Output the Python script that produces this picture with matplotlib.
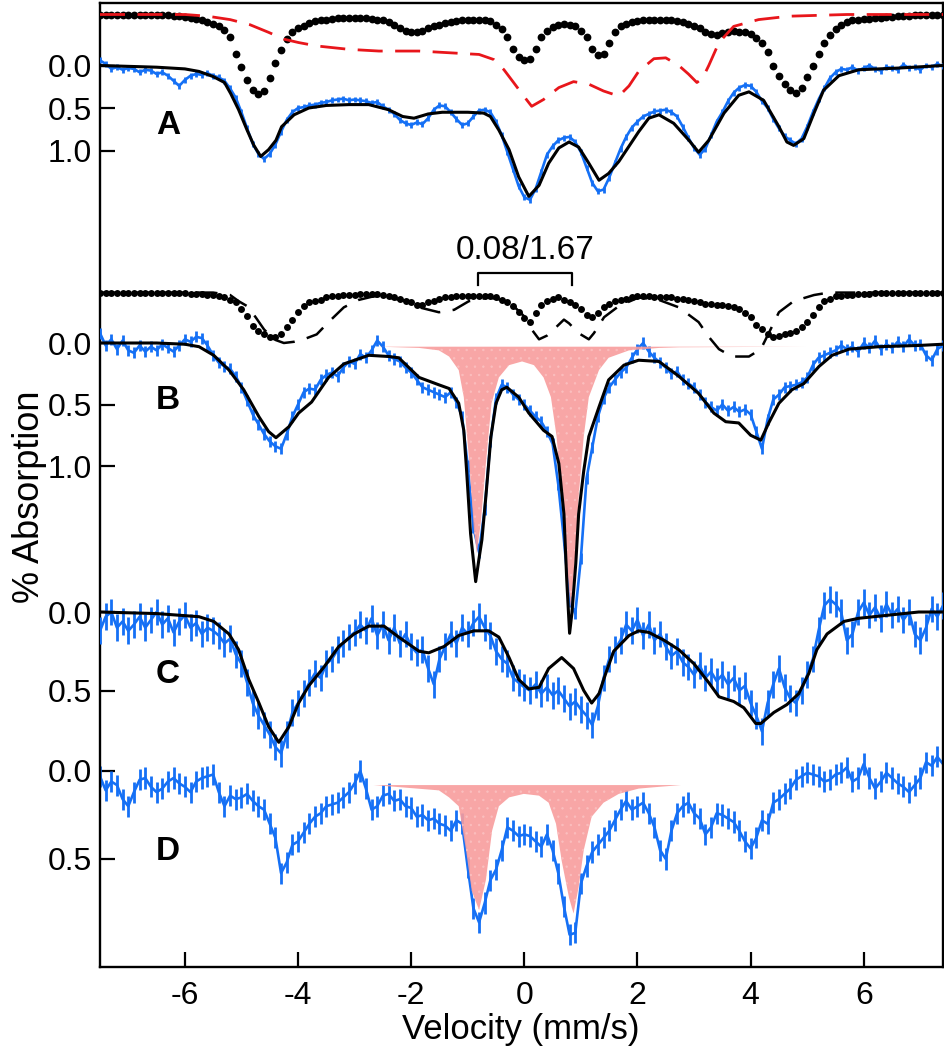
"""
Mossbauer spectra A-D, stacked with their own absorption scales
"""

import numpy as np
import matplotlib.pyplot as plt

plt.rcParams['font.family'] = ['Liberation Sans', 'DejaVu Sans']
plt.rcParams['hatch.linewidth'] = 0.5

# velocity channels (mm/s)
velocity = np.linspace(-7.5, 7.4, 150)

# ---- spectrum A -------------------------------------------------------
a_data = [-0.06, -0.02, 0.04, 0.02, 0.05, 0.03, 0.04, 0.08, 0.05, 0.06,
          0.10, 0.08, 0.12, 0.18, 0.24, 0.17, 0.12, 0.10, 0.11, 0.09,
          0.12, 0.14, 0.18, 0.27, 0.38, 0.55, 0.74, 0.92, 1.04, 1.10,
          1.04, 0.93, 0.78, 0.64, 0.55, 0.50, 0.49, 0.47, 0.46, 0.44,
          0.43, 0.41, 0.40, 0.39, 0.41, 0.40, 0.41, 0.42, 0.44, 0.43,
          0.48, 0.52, 0.57, 0.64, 0.68, 0.70, 0.67, 0.69, 0.62, 0.52,
          0.47, 0.48, 0.55, 0.63, 0.70, 0.68, 0.60, 0.53, 0.52, 0.55,
          0.66, 0.82, 1.02, 1.22, 1.42, 1.55, 1.58, 1.45, 1.25, 1.05,
          0.95, 0.88, 0.85, 0.84, 0.90, 1.02, 1.20, 1.38, 1.48, 1.46,
          1.32, 1.15, 0.98, 0.84, 0.73, 0.66, 0.60, 0.57, 0.54, 0.53,
          0.52, 0.55, 0.60, 0.72, 0.85, 0.97, 1.05, 0.98, 0.82, 0.66,
          0.55, 0.42, 0.32, 0.26, 0.23, 0.24, 0.31, 0.42, 0.50, 0.63,
          0.74, 0.83, 0.88, 0.92, 0.86, 0.72, 0.55, 0.40, 0.27, 0.15,
          0.08, 0.04, 0.05, 0.02, 0.06, 0.03, 0.00, 0.04, 0.06, 0.02,
          0.03, 0.05, -0.01, 0.03, 0.02, 0.05, 0.00, 0.02, -0.02, 0.01]
a_err = 0.035

a_fit_v = [-7.5, -6.5, -6.0, -5.75, -5.5, -5.3, -5.19, -5.05, -4.9, -4.78,
           -4.66, -4.52, -4.39, -4.29, -4.07, -3.81, -3.5, -3.1, -2.75, -2.4,
           -2.15, -1.95, -1.7, -1.45, -1.0, -0.72, -0.6, -0.45, -0.27, -0.1,
           0.08, 0.26, 0.43, 0.61, 0.79, 0.96, 1.14, 1.32, 1.49, 1.67,
           2.02, 2.2, 2.38, 2.64, 2.91, 3.08, 3.26, 3.53, 3.79, 3.97,
           4.23, 4.5, 4.64, 4.76, 4.94, 5.12, 5.29, 5.56, 5.91, 6.62, 7.4]
a_fit = [0.0, 0.02, 0.04, 0.07, 0.13, 0.20, 0.33, 0.52, 0.76, 0.94,
         1.07, 0.99, 0.88, 0.72, 0.58, 0.50, 0.47, 0.46, 0.46, 0.52,
         0.60, 0.62, 0.57, 0.55, 0.55, 0.56, 0.60, 0.76, 0.99, 1.31,
         1.54, 1.41, 1.15, 0.97, 0.90, 0.96, 1.15, 1.35, 1.27, 1.13,
         0.78, 0.62, 0.58, 0.68, 0.88, 1.02, 0.88, 0.56, 0.35, 0.31,
         0.41, 0.72, 0.90, 0.94, 0.86, 0.56, 0.29, 0.12, 0.05, 0.03, 0.0]

# site 1 of A (dots), drawn above the spectrum
a_site1 = [0.0, 0.0, 0.0, 0.0, 0.0, 0.0, 0.0, 0.0, 0.0, 0.01,
           0.01, 0.01, 0.01, 0.02, 0.02, 0.03, 0.04, 0.05, 0.07, 0.09,
           0.11, 0.14, 0.18, 0.26, 0.46, 0.62, 0.77, 0.89, 0.94, 0.90,
           0.75, 0.57, 0.42, 0.29, 0.21, 0.16, 0.13, 0.10, 0.08, 0.07,
           0.06, 0.05, 0.04, 0.04, 0.04, 0.04, 0.04, 0.04, 0.05, 0.06,
           0.07, 0.09, 0.12, 0.16, 0.19, 0.21, 0.21, 0.19, 0.16, 0.14,
           0.12, 0.10, 0.09, 0.08, 0.07, 0.06, 0.06, 0.06, 0.07, 0.08,
           0.12, 0.17, 0.26, 0.40, 0.50, 0.53, 0.52, 0.41, 0.27, 0.19,
           0.15, 0.12, 0.11, 0.12, 0.14, 0.19, 0.27, 0.40, 0.48, 0.47,
           0.33, 0.20, 0.14, 0.11, 0.09, 0.08, 0.07, 0.06, 0.06, 0.06,
           0.07, 0.07, 0.08, 0.09, 0.11, 0.13, 0.16, 0.20, 0.23, 0.24,
           0.22, 0.20, 0.19, 0.20, 0.21, 0.23, 0.28, 0.34, 0.44, 0.60,
           0.72, 0.82, 0.89, 0.92, 0.86, 0.74, 0.60, 0.46, 0.34, 0.24,
           0.17, 0.12, 0.09, 0.07, 0.06, 0.05, 0.05, 0.04, 0.04, 0.03,
           0.03, 0.02, 0.02, 0.02, 0.01, 0.01, 0.01, 0.0, 0.0, 0.0]

# site 2 of A (red dashed)
a_site2_v = [-7.5, -6.0, -5.6, -5.2, -4.85, -4.52, -4.25, -3.99, -3.67, -3.1,
             -2.57, -1.86, -1.33, -0.8, -0.54, -0.36, -0.19, -0.01, 0.13, 0.34,
             0.61, 0.87, 1.14, 1.4, 1.67, 1.85, 2.02, 2.29, 2.5, 2.73,
             2.9, 3.05, 3.15, 3.26, 3.44, 3.7, 4.14, 4.68, 5.7, 7.4]
a_site2 = [0.0, 0.0, 0.02, 0.06, 0.12, 0.21, 0.29, 0.33, 0.37, 0.41,
           0.43, 0.43, 0.45, 0.47, 0.53, 0.65, 0.80, 0.96, 1.08, 1.00,
           0.86, 0.79, 0.82, 0.90, 0.96, 0.84, 0.67, 0.52, 0.51, 0.60,
           0.70, 0.80, 0.75, 0.60, 0.33, 0.14, 0.06, 0.02, 0.0, 0.0]

# ---- spectrum B -------------------------------------------------------
b_data = [-0.08, 0.02, -0.03, 0.05, -0.02, 0.06, 0.08, 0.02, 0.07, 0.03,
          0.06, 0.01, 0.04, 0.07, 0.02, -0.03, -0.01, -0.05, -0.04, 0.02,
          0.10, 0.16, 0.19, 0.21, 0.27, 0.36, 0.47, 0.58, 0.66, 0.74,
          0.80, 0.84, 0.86, 0.74, 0.60, 0.50, 0.40, 0.37, 0.38, 0.30,
          0.26, 0.24, 0.27, 0.20, 0.15, 0.17, 0.09, 0.12, 0.06, -0.02,
          0.03, 0.10, 0.13, 0.15, 0.20, 0.24, 0.30, 0.36, 0.38, 0.40,
          0.42, 0.44, 0.40, 0.48, 0.60, 1.00, 1.50, 1.70, 1.35, 0.80,
          0.45, 0.34, 0.36, 0.42, 0.46, 0.50, 0.55, 0.60, 0.64, 0.72,
          0.82, 1.15, 1.60, 2.10, 2.20, 1.75, 1.10, 0.85, 0.60, 0.45,
          0.36, 0.30, 0.24, 0.20, 0.12, 0.05, 0.00, 0.07, 0.12, 0.16,
          0.20, 0.25, 0.23, 0.30, 0.33, 0.36, 0.42, 0.48, 0.52, 0.55,
          0.50, 0.55, 0.52, 0.56, 0.54, 0.58, 0.72, 0.86, 0.62, 0.46,
          0.42, 0.36, 0.35, 0.34, 0.32, 0.28, 0.18, 0.12, 0.10, 0.08,
          0.06, 0.02, 0.05, 0.03, 0.07, 0.00, 0.04, -0.02, 0.05, 0.01,
          0.04, -0.01, 0.03, -0.03, 0.02, 0.01, 0.10, 0.14, 0.05, 0.02]
b_err = 0.045

b_fit_v = [-7.5, -6.5, -6.0, -5.75, -5.49, -5.22, -4.96, -4.69, -4.52, -4.39,
           -4.16, -3.99, -3.76, -3.46, -3.19, -2.75, -2.39, -2.22, -1.86, -1.51,
           -1.33, -1.16, -1.07, -1.02, -0.95, -0.89, -0.86, -0.80, -0.75, -0.68,
           -0.59, -0.50, -0.40, -0.31, -0.10, 0.08, 0.34, 0.49, 0.61, 0.70,
           0.75, 0.80, 0.84, 0.91, 0.96, 1.05, 1.14, 1.32, 1.49, 1.76,
           2.02, 2.38, 2.73, 3.08, 3.35, 3.56, 3.79, 4.0, 4.18, 4.32,
           4.5, 4.73, 4.94, 5.21, 5.44, 5.74, 6.27, 6.97, 7.4]
b_fit = [0.0, 0.0, 0.01, 0.03, 0.10, 0.22, 0.38, 0.60, 0.72, 0.77,
         0.68, 0.57, 0.48, 0.28, 0.17, 0.10, 0.11, 0.12, 0.28, 0.34,
         0.37, 0.49, 0.71, 1.04, 1.55, 1.81, 1.94, 1.75, 1.60, 1.25,
         0.76, 0.49, 0.38, 0.36, 0.44, 0.57, 0.71, 0.76, 0.98, 1.39,
         1.93, 2.36, 2.20, 1.79, 1.39, 1.04, 0.76, 0.52, 0.30, 0.18,
         0.14, 0.15, 0.27, 0.41, 0.57, 0.64, 0.65, 0.75, 0.79, 0.65,
         0.49, 0.38, 0.33, 0.19, 0.10, 0.05, 0.03, 0.02, 0.01]

# site 1 of B (dots)
b_site1 = [0.0, 0.0, 0.0, 0.0, 0.0, 0.0, 0.0, 0.0, 0.0, 0.0,
           0.0, 0.0, 0.0, 0.0, 0.0, 0.0, 0.01, 0.01, 0.01, 0.02,
           0.02, 0.03, 0.04, 0.06, 0.08, 0.13, 0.19, 0.27, 0.31, 0.34,
           0.36, 0.36, 0.34, 0.28, 0.22, 0.16, 0.11, 0.08, 0.07, 0.06,
           0.04, 0.03, 0.03, 0.02, 0.02, 0.02, 0.01, 0.01, 0.01, 0.01,
           0.02, 0.03, 0.04, 0.05, 0.07, 0.08, 0.10, 0.10, 0.08, 0.07,
           0.05, 0.04, 0.04, 0.03, 0.03, 0.03, 0.03, 0.03, 0.03, 0.03,
           0.04, 0.06, 0.08, 0.11, 0.16, 0.21, 0.24, 0.17, 0.10, 0.07,
           0.05, 0.04, 0.06, 0.08, 0.10, 0.13, 0.18, 0.20, 0.17, 0.12,
           0.09, 0.07, 0.06, 0.05, 0.04, 0.03, 0.03, 0.03, 0.04, 0.04,
           0.04, 0.04, 0.05, 0.05, 0.06, 0.07, 0.08, 0.09, 0.09, 0.10,
           0.10, 0.11, 0.12, 0.13, 0.17, 0.20, 0.26, 0.30, 0.34, 0.36,
           0.35, 0.34, 0.33, 0.31, 0.28, 0.24, 0.18, 0.12, 0.07, 0.05,
           0.03, 0.03, 0.02, 0.02, 0.01, 0.01, 0.01, 0.0, 0.0, 0.0,
           0.0, 0.0, 0.0, 0.0, 0.0, 0.0, 0.0, 0.0, 0.0, 0.0]

# site 2 of B (black dashed)
b_site2_v = [-7.5, -5.5, -5.2, -5.05, -4.9, -4.75, -4.6, -4.43, -4.25, -4.07,
             -3.9, -3.67, -3.46, -3.19, -2.93, -2.66, -2.4, -2.1, -1.86, -1.51,
             -1.24, -0.98, -0.63, -0.28, -0.01, 0.13, 0.26, 0.4, 0.52, 0.61,
             0.7, 0.79, 0.96, 1.14, 1.23, 1.41, 1.67, 2.02, 2.38, 2.73,
             3.08, 3.26, 3.44, 3.67, 3.97, 4.18, 4.32, 4.5, 4.76, 5.12, 5.38, 7.4]
b_site2 = [0.0, 0.0, 0.02, 0.07, 0.11, 0.20, 0.30, 0.38, 0.41, 0.40,
           0.38, 0.34, 0.24, 0.12, 0.06, 0.03, 0.04, 0.07, 0.12, 0.16,
           0.14, 0.07, 0.04, 0.07, 0.19, 0.30, 0.38, 0.35, 0.30, 0.26,
           0.22, 0.25, 0.33, 0.38, 0.33, 0.20, 0.11, 0.04, 0.06, 0.12,
           0.24, 0.36, 0.46, 0.52, 0.52, 0.46, 0.33, 0.16, 0.07, 0.02, 0.0, 0.0]

# ferrous doublet (pink), delta/dEQ = 0.08/1.67
b_dbl_v = [-4.96, -2.57, -1.86, -1.51, -1.33, -1.16, -1.07, -0.98, -0.89, -0.84,
           -0.77, -0.68, -0.58, -0.45, -0.27, -0.04, 0.17, 0.34, 0.47, 0.57,
           0.66, 0.75, 0.82, 0.89, 0.96, 1.05, 1.14, 1.32, 1.49, 1.85,
           2.38, 2.73, 4.98]
b_dbl = [0.03, 0.03, 0.04, 0.06, 0.11, 0.22, 0.44, 0.93, 1.52, 1.71,
         1.46, 0.98, 0.49, 0.28, 0.18, 0.15, 0.18, 0.28, 0.44, 0.76,
         1.25, 1.79, 2.15, 1.79, 1.25, 0.76, 0.44, 0.22, 0.12, 0.06,
         0.04, 0.035, 0.03]
b_dbl_base = 0.03

# ---- spectrum C -------------------------------------------------------
c_data = [0.12, 0.03, 0.00, 0.10, 0.06, 0.12, 0.08, 0.03, 0.10, 0.05,
          0.00, 0.08, 0.04, 0.13, 0.06, 0.02, 0.10, 0.07, 0.14, 0.10,
          0.12, 0.15, 0.20, 0.17, 0.27, 0.33, 0.45, 0.58, 0.66, 0.72,
          0.78, 0.86, 0.90, 0.78, 0.64, 0.58, 0.52, 0.45, 0.39, 0.42,
          0.33, 0.30, 0.24, 0.20, 0.16, 0.13, 0.08, 0.12, 0.04, 0.15,
          0.08, 0.18, 0.10, 0.20, 0.14, 0.22, 0.26, 0.24, 0.36, 0.46,
          0.30, 0.22, 0.14, 0.20, 0.10, 0.14, 0.07, 0.03, 0.10, 0.15,
          0.25, 0.30, 0.33, 0.42, 0.45, 0.48, 0.50, 0.46, 0.52, 0.48,
          0.53, 0.50, 0.55, 0.60, 0.57, 0.62, 0.66, 0.72, 0.60, 0.42,
          0.30, 0.24, 0.18, 0.08, 0.12, 0.05, 0.15, 0.08, 0.18, 0.14,
          0.22, 0.28, 0.25, 0.32, 0.35, 0.40, 0.34, 0.42, 0.38, 0.44,
          0.40, 0.46, 0.42, 0.50, 0.47, 0.58, 0.66, 0.76, 0.58, 0.46,
          0.36, 0.48, 0.55, 0.58, 0.50, 0.40, 0.30, 0.12, -0.04, -0.08,
          -0.05, 0.00, 0.18, 0.14, 0.00, -0.06, 0.02, -0.03, 0.04, -0.05,
          0.02, -0.02, 0.05, 0.00, 0.14, 0.18, 0.10, -0.02, 0.03, -0.04]
c_err = 0.085

c_fit_v = [-7.5, -6.5, -5.75, -5.49, -5.22, -5.05, -4.87, -4.69, -4.52, -4.34,
           -4.16, -3.99, -3.81, -3.54, -3.28, -3.01, -2.75, -2.48, -2.22, -1.86,
           -1.69, -1.42, -1.16, -0.89, -0.63, -0.45, -0.27, -0.1, 0.08, 0.26,
           0.43, 0.66, 0.87, 1.05, 1.19, 1.32, 1.44, 1.58, 1.85, 2.02,
           2.2, 2.47, 2.73, 3.0, 3.26, 3.44, 3.7, 3.88, 4.09, 4.18,
           4.41, 4.64, 4.85, 5.03, 5.17, 5.35, 5.65, 5.91, 6.44, 6.97, 7.4]
c_fit = [0.0, 0.01, 0.03, 0.06, 0.14, 0.24, 0.43, 0.58, 0.73, 0.83,
         0.73, 0.58, 0.47, 0.35, 0.22, 0.14, 0.09, 0.09, 0.16, 0.25,
         0.26, 0.22, 0.15, 0.12, 0.12, 0.16, 0.29, 0.43, 0.49, 0.48,
         0.36, 0.29, 0.36, 0.50, 0.58, 0.52, 0.39, 0.25, 0.15, 0.12,
         0.13, 0.18, 0.24, 0.33, 0.45, 0.54, 0.57, 0.61, 0.71, 0.71,
         0.64, 0.59, 0.52, 0.39, 0.24, 0.14, 0.06, 0.04, 0.02, 0.0, 0.0]

# ---- spectrum D -------------------------------------------------------
d_data = [0.03, 0.11, 0.06, 0.08, 0.16, 0.20, 0.12, 0.05, 0.04, 0.09,
          0.12, 0.10, 0.06, 0.04, 0.07, 0.09, 0.12, 0.06, 0.04, 0.03,
          0.02, 0.12, 0.20, 0.14, 0.16, 0.15, 0.13, 0.17, 0.20, 0.22,
          0.30, 0.38, 0.58, 0.52, 0.42, 0.40, 0.35, 0.30, 0.26, 0.24,
          0.20, 0.19, 0.18, 0.15, 0.12, 0.07, 0.00, 0.10, 0.22, 0.20,
          0.14, 0.13, 0.17, 0.16, 0.20, 0.21, 0.26, 0.25, 0.28, 0.27,
          0.30, 0.31, 0.34, 0.28, 0.30, 0.55, 0.78, 0.86, 0.75, 0.62,
          0.56, 0.45, 0.32, 0.34, 0.37, 0.36, 0.37, 0.40, 0.43, 0.36,
          0.45, 0.58, 0.77, 0.93, 0.92, 0.64, 0.54, 0.46, 0.42, 0.38,
          0.34, 0.28, 0.22, 0.17, 0.22, 0.20, 0.18, 0.24, 0.32, 0.45,
          0.50, 0.34, 0.24, 0.20, 0.18, 0.24, 0.27, 0.36, 0.32, 0.24,
          0.25, 0.27, 0.29, 0.34, 0.40, 0.44, 0.38, 0.28, 0.30, 0.18,
          0.16, 0.13, 0.10, 0.05, 0.03, 0.01, 0.02, 0.03, 0.06, 0.05,
          0.02, 0.01, -0.02, 0.06, 0.04, -0.04, 0.04, 0.10, 0.06, 0.01,
          0.04, 0.07, 0.09, 0.12, 0.08, 0.04, -0.05, -0.03, -0.08, -0.04]
d_err = 0.06

d_dbl_v = [-2.66, -1.51, -1.33, -1.16, -1.03, -0.93, -0.80, -0.68, -0.57, -0.45,
           -0.27, -0.01, 0.26, 0.43, 0.56, 0.66, 0.79, 0.87, 0.96, 1.05,
           1.19, 1.40, 1.67, 2.02, 2.38, 2.77]
d_dbl = [0.08, 0.11, 0.15, 0.20, 0.45, 0.68, 0.79, 0.62, 0.34, 0.20,
         0.15, 0.13, 0.14, 0.18, 0.30, 0.51, 0.72, 0.81, 0.66, 0.45,
         0.26, 0.18, 0.13, 0.10, 0.09, 0.08]
d_dbl_base = 0.08

# ---------------- layout ----------------
BLUE = '#1570f5'
PINK = '#f89c9c'
RECT = [100 / 945, 1 - 967 / 1050, 843 / 945, 964 / 1050]

fig = plt.figure(figsize=(9.45, 10.5), dpi=100)


def layer(zero_px, px_per_unit, ticks, base=None, name=''):
    # every spectrum gets its own transparent axes with its own y scale
    ax = fig.add_axes(RECT, sharex=base, label=name)
    ax.set_ylim((967 - zero_px) / px_per_unit, (3 - zero_px) / px_per_unit)
    ax.set_yticks(ticks)
    ax.set_yticklabels(['%.1f' % t for t in ticks])
    ax.tick_params(axis='y', direction='in', length=11, width=1.6,
                   labelsize=23, pad=6, right=False)
    if base is not None:
        ax.set_frame_on(False)
        ax.tick_params(axis='x', bottom=False, labelbottom=False)
    return ax


axD = layer(771, 176, [0.0, 0.5], name='D')
axD.set_xlim(-7.5, 7.4)
axD.set_xticks([-6, -4, -2, 0, 2, 4, 6])
axD.set_xticklabels(['-6', '-4', '-2', '0', '2', '4', '6'])
axD.tick_params(axis='x', direction='in', length=11, width=1.6,
                labelsize=23, pad=10, top=False)
for s in axD.spines.values():
    s.set_linewidth(1.7)
axC = layer(612, 157, [0.0, 0.5], base=axD, name='C')
axB = layer(343, 123, [0.0, 0.5, 1.0], base=axD, name='B')
axA = layer(65.5, 85, [0.0, 0.5, 1.0], base=axD, name='A')


def spectrum(ax, data, err):
    ax.errorbar(velocity, data, yerr=err, fmt='-', color=BLUE, lw=1.9,
                elinewidth=2.0, capsize=0, zorder=2)


# A
spectrum(axA, a_data, a_err)
axA.plot(a_fit_v, a_fit, color='black', lw=2.2, zorder=4)
off_a = -0.6
axA.plot(velocity, np.array(a_site1) + off_a, 'o', color='black', ms=5.6,
         mew=0, zorder=3)
axA.plot(a_site2_v, np.array(a_site2) + off_a, color='#e8161b', lw=2.0,
         dashes=(9, 4.5), zorder=3)

# B
spectrum(axB, b_data, b_err)
axB.fill_between(b_dbl_v, b_dbl_base, b_dbl, facecolor=PINK, edgecolor='#fbc0c0',
                 hatch='..', lw=0, alpha=0.9, zorder=3)
axB.plot(b_fit_v, b_fit, color='black', lw=2.2, zorder=4)
off_b = -0.41
axB.plot(velocity, np.array(b_site1) + off_b, 'o', color='black', ms=5.0,
         mew=0, zorder=3)
axB.plot(b_site2_v, np.array(b_site2) + off_b, color='black', lw=1.8,
         dashes=(8, 5), zorder=3)
axB.plot([-0.82, -0.82, 0.84, 0.84], [-0.47, -0.57, -0.57, -0.47],
         color='black', lw=1.6)
axB.text(0.01, -0.75, '0.08/1.67', fontsize=24, ha='center', va='center')

# C
spectrum(axC, c_data, c_err)
axC.plot(c_fit_v, c_fit, color='black', lw=2.2, zorder=4)

# D
spectrum(axD, d_data, d_err)
axD.fill_between(d_dbl_v, d_dbl_base, d_dbl, facecolor=PINK, edgecolor='#fbc0c0',
                 hatch='..', lw=0, alpha=0.9, zorder=3)

# panel letters
for ax, letter, y in [(axA, 'A', 0.70), (axB, 'B', 0.47), (axC, 'C', 0.40), (axD, 'D', 0.46)]:
    ax.text(-6.3, y, letter, fontsize=24, fontweight='bold', ha='center', va='center')

fig.text(521 / 945, 1 - 1029 / 1050, 'Velocity (mm/s)', fontsize=25,
         ha='center', va='center')
fig.text(30 / 945, 1 - 497 / 1050, '% Absorption', fontsize=26, rotation=90,
         ha='center', va='center')

fig.savefig('out.png', dpi=100)
